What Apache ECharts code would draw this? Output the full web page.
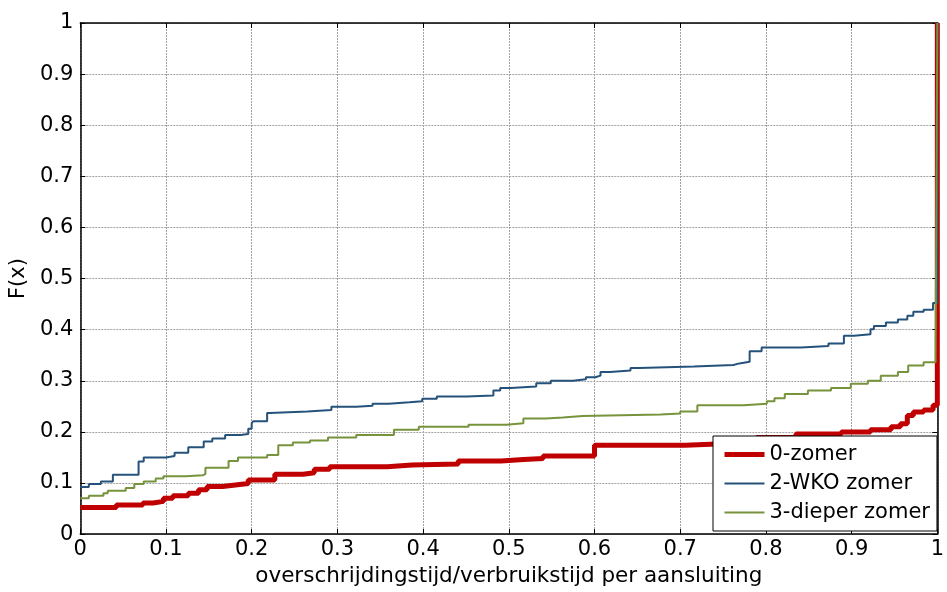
<!DOCTYPE html>
<html>
<head>
<meta charset="utf-8">
<title>F(x)</title>
<script src="https://cdn.jsdelivr.net/npm/echarts@6/dist/echarts.min.js"></script>
<style>
  html, body { margin: 0; padding: 0; background: #fff; }
  #chart { width: 947px; height: 592px; }
</style>
</head>
<body>
<div id="chart"></div>
<script>
// Empirical step curves: x = overschrijdingstijd/verbruikstijd, y = F(x)
const seriesNames = ['0-zomer', '2-WKO zomer', '3-dieper zomer'];

const zomerX = [0, 0.042, 0.073, 0.085, 0.097, 0.108, 0.126, 0.138, 0.148, 0.166, 0.181, 0.196,
  0.227, 0.260, 0.273, 0.291, 0.358, 0.387, 0.441, 0.491, 0.517, 0.540, 0.600, 0.706,
  0.750, 0.789, 0.835, 0.888, 0.922, 0.946, 0.957, 0.965, 0.972, 0.984, 0.995, 1, 1];
const zomerY = [0.052, 0.057, 0.061, 0.064, 0.070, 0.075, 0.080, 0.087, 0.093, 0.096, 0.099, 0.106,
  0.117, 0.120, 0.127, 0.132, 0.135, 0.137, 0.143, 0.146, 0.148, 0.153, 0.174, 0.177,
  0.183, 0.189, 0.196, 0.200, 0.204, 0.210, 0.216, 0.232, 0.239, 0.243, 0.252, 0.252, 1];

const wkoX = [0, 0.010, 0.024, 0.038, 0.068, 0.074, 0.100, 0.110, 0.126, 0.144, 0.154, 0.169,
  0.187, 0.196, 0.200, 0.202, 0.218, 0.221, 0.265, 0.293, 0.322, 0.341, 0.360, 0.384,
  0.399, 0.416, 0.451, 0.482, 0.490, 0.502, 0.532, 0.549, 0.575, 0.590, 0.601, 0.607,
  0.618, 0.642, 0.652, 0.716, 0.762, 0.769, 0.781, 0.795, 0.841, 0.873, 0.891, 0.903,
  0.922, 0.926, 0.940, 0.954, 0.965, 0.972, 0.984, 0.995, 1, 1];
const wkoY = [0.092, 0.098, 0.103, 0.116, 0.142, 0.150, 0.153, 0.159, 0.170, 0.181, 0.187, 0.194,
  0.196, 0.206, 0.217, 0.221, 0.237, 0.240, 0.243, 0.249, 0.251, 0.255, 0.258, 0.260,
  0.265, 0.269, 0.271, 0.281, 0.286, 0.289, 0.295, 0.300, 0.303, 0.307, 0.310, 0.317,
  0.320, 0.325, 0.328, 0.331, 0.334, 0.337, 0.358, 0.365, 0.368, 0.373, 0.388, 0.391,
  0.401, 0.407, 0.414, 0.420, 0.427, 0.435, 0.439, 0.452, 0.452, 1];

const dieperX = [0, 0.010, 0.027, 0.032, 0.053, 0.063, 0.074, 0.088, 0.097, 0.123, 0.143, 0.146,
  0.173, 0.184, 0.218, 0.231, 0.248, 0.268, 0.289, 0.322, 0.366, 0.395, 0.453, 0.497,
  0.517, 0.543, 0.563, 0.586, 0.677, 0.700, 0.720, 0.774, 0.801, 0.810, 0.822, 0.849,
  0.876, 0.899, 0.919, 0.934, 0.954, 0.966, 0.984, 0.998, 1, 1];
const dieperY = [0.070, 0.075, 0.080, 0.085, 0.090, 0.098, 0.103, 0.109, 0.113, 0.115, 0.118, 0.130,
  0.143, 0.150, 0.155, 0.174, 0.179, 0.183, 0.189, 0.194, 0.204, 0.210, 0.214, 0.217,
  0.226, 0.228, 0.231, 0.234, 0.236, 0.240, 0.252, 0.255, 0.260, 0.266, 0.274, 0.281,
  0.286, 0.294, 0.300, 0.310, 0.317, 0.330, 0.336, 0.352, 0.352, 1];

const lineColors = ['#c00000', '#24527a', '#77933c'];
const lineWidths = [5, 2, 2];

function pairs(xs, ys) {
  return xs.map((x, i) => [x, ys[i]]);
}

const FONT = '"DejaVu Sans", Arial, sans-serif';
const fmt = v => String(+v.toFixed(1));

const chart = echarts.init(document.getElementById('chart'), null, { renderer: 'canvas' });

const gridLine = { show: true, lineStyle: { color: '#a3a3a3', width: 1, type: [2, 1] } };
const frameLine = { show: true, onZero: false, lineStyle: { color: '#000', width: 1.5 } };
const innerTick = { show: true, inside: true, length: 5, lineStyle: { color: '#000', width: 1 } };

chart.setOption({
  animation: false,
  backgroundColor: '#fff',
  textStyle: { fontFamily: FONT },
  grid: { left: 79, right: 5, top: 23, bottom: 54 },
  xAxis: [{
    type: 'value', min: 0, max: 1, interval: 0.1,
    name: 'overschrijdingstijd/verbruikstijd per aansluiting',
    nameLocation: 'middle', nameGap: 29,
    nameTextStyle: { fontSize: 21.5, color: '#000', fontFamily: FONT },
    axisLine: frameLine, axisTick: innerTick,
    axisLabel: { color: '#000', fontSize: 21, fontFamily: FONT, margin: 5, formatter: fmt, showMinLabel: true, showMaxLabel: true },
    splitLine: gridLine
  }, {
    type: 'value', min: 0, max: 1, interval: 0.1, position: 'top',
    axisLine: frameLine, axisTick: innerTick,
    axisLabel: { show: false }, splitLine: { show: false }
  }],
  yAxis: [{
    type: 'value', min: 0, max: 1, interval: 0.1,
    name: 'F(x)', nameLocation: 'middle', nameGap: 46,
    nameTextStyle: { fontSize: 21, color: '#000', fontFamily: FONT },
    axisLine: frameLine, axisTick: innerTick,
    axisLabel: { color: '#000', fontSize: 21, fontFamily: FONT, margin: 7, formatter: fmt, showMinLabel: true, showMaxLabel: true },
    splitLine: gridLine
  }, {
    type: 'value', min: 0, max: 1, interval: 0.1, position: 'right',
    axisLine: frameLine, axisTick: innerTick,
    axisLabel: { show: false }, splitLine: { show: false }
  }],
  legend: {
    orient: 'vertical',
    left: 713, top: 436,
    padding: [8, 7, 8, 9],
    itemGap: 8,
    itemWidth: 40, itemHeight: 14,
    backgroundColor: '#fff',
    borderColor: '#000', borderWidth: 1,
    itemStyle: { opacity: 0 },
    lineStyle: { width: 'inherit' },
    textStyle: { fontSize: 21, color: '#000', fontFamily: FONT },
    data: seriesNames
  },
  series: [
    { data: pairs(zomerX, zomerY) },
    { data: pairs(wkoX, wkoY) },
    { data: pairs(dieperX, dieperY) }
  ].map((s, i) => ({
    name: seriesNames[i],
    type: 'line',
    step: 'end',
    data: s.data,
    showSymbol: false,
    symbol: 'none',
    clip: false,
    color: lineColors[i],
    lineStyle: { color: lineColors[i], width: lineWidths[i] },
    z: 2 + i
  }))
});
</script>
</body>
</html>
